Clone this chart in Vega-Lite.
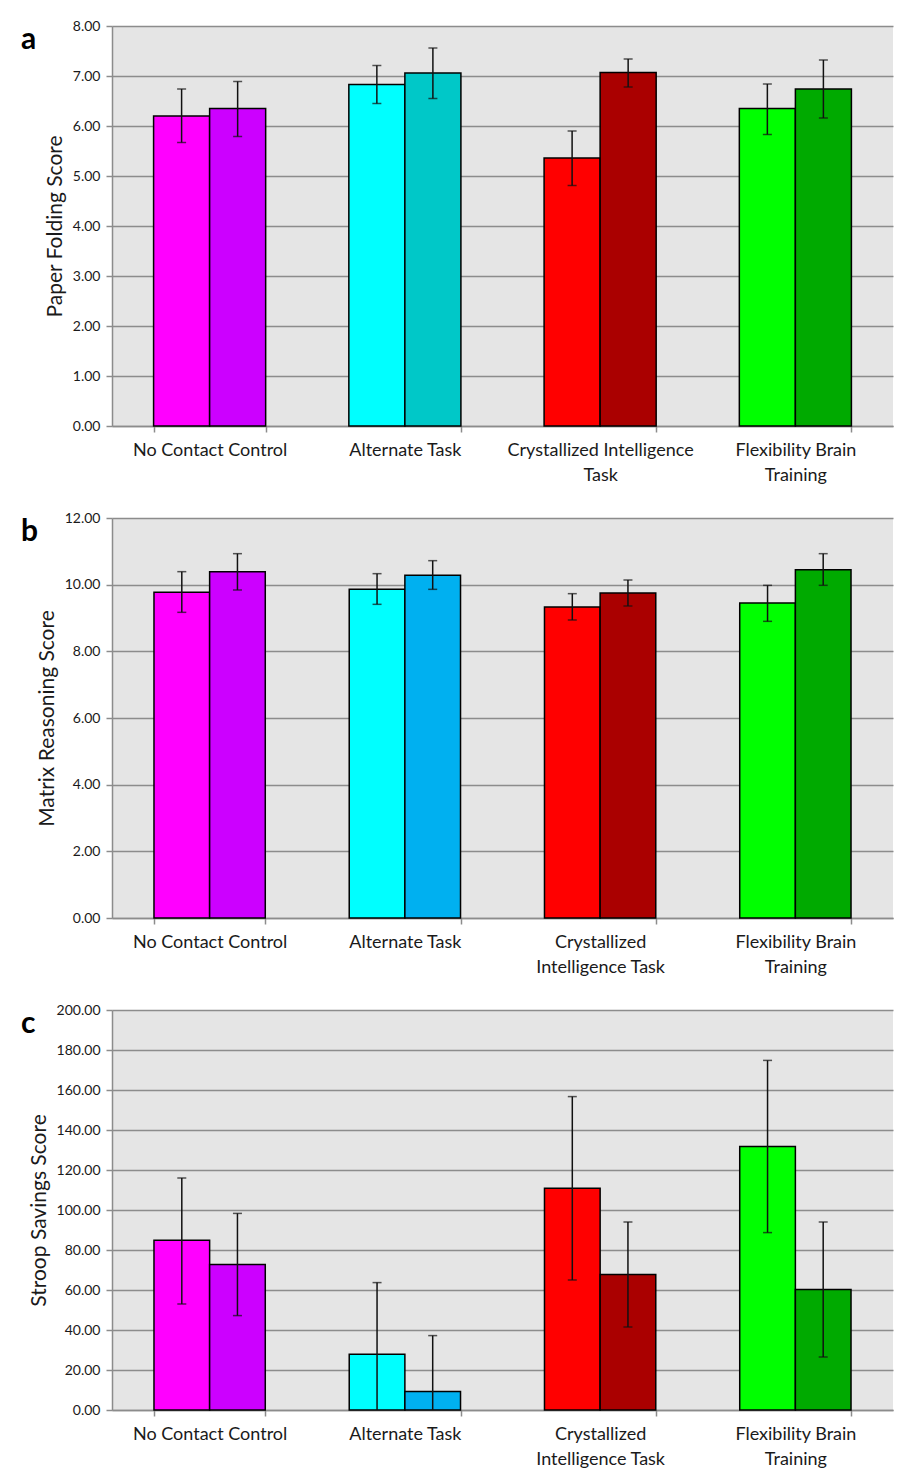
{
  "$schema": "https://vega.github.io/schema/vega-lite/v6.json",
  "background": "white",
  "padding": {"left": 21, "top": 19, "right": 9, "bottom": 0},
  "config": {
    "font": "Lato",
    "view": {"fill": "#e5e5e5", "stroke": null},
    "axis": {
      "labelFont": "Lato", "titleFont": "Lato", "labelColor": "#1a1a1a", "titleColor": "#1a1a1a",
      "domainColor": "#8c8c8c", "tickColor": "#8c8c8c", "gridColor": "#8c8c8c",
      "gridWidth": 1.5, "domainWidth": 1.5, "tickWidth": 1.5, "titleFontWeight": "normal"
    },
    "axisY": {"labelFontSize": 14, "titleFontSize": 21, "tickSize": 6, "labelPadding": 6, "titlePadding": 7, "grid": true, "format": ".2f", "labelOverlap": false},
    "axisX": {"labelFontSize": 18, "labelAngle": 0, "tickSize": 6, "labelPadding": 9, "labelLineHeight": 25, "labelLimit": 400, "grid": false, "tickBand": "extent", "title": null, "labelOverlap": false},
    "title": {"font": "Lato", "fontSize": 30, "fontWeight": "bold", "color": "black", "anchor": "start", "frame": "group", "dx": -91, "dy": 40},
    "bar": {"stroke": "black", "strokeWidth": 1.5},
    "legend": {"disable": true}
  },
  "datasets": {
    "a": [
      {"group": "No Contact Control", "time": "pre", "series": "NC pre", "mean": 6.20, "lo": 5.67, "hi": 6.74},
      {"group": "No Contact Control", "time": "post", "series": "NC post", "mean": 6.35, "lo": 5.79, "hi": 6.89},
      {"group": "Alternate Task", "time": "pre", "series": "AT pre", "mean": 6.83, "lo": 6.45, "hi": 7.21},
      {"group": "Alternate Task", "time": "post", "series": "AT post", "mean": 7.06, "lo": 6.55, "hi": 7.56},
      {"group": "Crystallized Intelligence Task", "time": "pre", "series": "CI pre", "mean": 5.36, "lo": 4.81, "hi": 5.90},
      {"group": "Crystallized Intelligence Task", "time": "post", "series": "CI post", "mean": 7.07, "lo": 6.78, "hi": 7.34},
      {"group": "Flexibility Brain Training", "time": "pre", "series": "FB pre", "mean": 6.35, "lo": 5.83, "hi": 6.84},
      {"group": "Flexibility Brain Training", "time": "post", "series": "FB post", "mean": 6.74, "lo": 6.16, "hi": 7.32}
    ],
    "b": [
      {"group": "No Contact Control", "time": "pre", "series": "NC pre", "mean": 9.77, "lo": 9.17, "hi": 10.39},
      {"group": "No Contact Control", "time": "post", "series": "NC post", "mean": 10.39, "lo": 9.84, "hi": 10.93},
      {"group": "Alternate Task", "time": "pre", "series": "AT pre", "mean": 9.86, "lo": 9.41, "hi": 10.33},
      {"group": "Alternate Task", "time": "post", "series": "AT post", "mean": 10.28, "lo": 9.86, "hi": 10.72},
      {"group": "Crystallized Intelligence Task", "time": "pre", "series": "CI pre", "mean": 9.33, "lo": 8.94, "hi": 9.73},
      {"group": "Crystallized Intelligence Task", "time": "post", "series": "CI post", "mean": 9.75, "lo": 9.36, "hi": 10.14},
      {"group": "Flexibility Brain Training", "time": "pre", "series": "FB pre", "mean": 9.45, "lo": 8.90, "hi": 9.98},
      {"group": "Flexibility Brain Training", "time": "post", "series": "FB post", "mean": 10.45, "lo": 9.98, "hi": 10.93}
    ],
    "c": [
      {"group": "No Contact Control", "time": "pre", "series": "NC pre", "mean": 84.9, "lo": 53.0, "hi": 116.0},
      {"group": "No Contact Control", "time": "post", "series": "NC post", "mean": 72.8, "lo": 47.2, "hi": 98.3},
      {"group": "Alternate Task", "time": "pre", "series": "AT pre", "mean": 27.9, "lo": -7.9, "hi": 63.7},
      {"group": "Alternate Task", "time": "post", "series": "AT post", "mean": 9.2, "lo": -18.8, "hi": 37.2},
      {"group": "Crystallized Intelligence Task", "time": "pre", "series": "CI pre", "mean": 110.9, "lo": 65.0, "hi": 156.7},
      {"group": "Crystallized Intelligence Task", "time": "post", "series": "CI post", "mean": 67.8, "lo": 41.5, "hi": 94.0},
      {"group": "Flexibility Brain Training", "time": "pre", "series": "FB pre", "mean": 131.8, "lo": 88.7, "hi": 174.8},
      {"group": "Flexibility Brain Training", "time": "post", "series": "FB post", "mean": 60.3, "lo": 26.5, "hi": 94.0}
    ]
  },
  "concat": [
    {
      "title": "a",
      "width": 781, "height": 400,
      "data": {"name": "a"},
      "encoding": {
        "x": {"field": "group", "type": "nominal", "sort": null,
              "scale": {"paddingInner": 0.426, "paddingOuter": 0.213},
              "axis": {"labelExpr": "datum.value == 'Crystallized Intelligence Task' ? ['Crystallized Intelligence', 'Task'] : datum.value == 'Flexibility Brain Training' ? ['Flexibility Brain', 'Training'] : datum.value"}},
        "xOffset": {"field": "time", "type": "nominal", "sort": ["pre", "post"], "scale": {"paddingInner": 0, "paddingOuter": 0}}
      },
      "layer": [
        {"mark": {"type": "bar"},
         "encoding": {
           "y": {"field": "mean", "type": "quantitative", "scale": {"domain": [0, 8]},
                 "axis": {"title": "Paper Folding Score", "values": [0, 1, 2, 3, 4, 5, 6, 7, 8]}},
           "color": {"field": "series", "type": "nominal",
                     "scale": {"domain": ["NC pre", "NC post", "AT pre", "AT post", "CI pre", "CI post", "FB pre", "FB post"],
                               "range": ["#ff00ff", "#cc00ff", "#00ffff", "#00c8c8", "#ff0000", "#aa0000", "#00ff00", "#00aa00"]}}
         }},
        {"mark": {"type": "rule", "color": "#111111", "strokeWidth": 1.5, "clip": true},
         "encoding": {"y": {"field": "lo", "type": "quantitative", "axis": {"title": "Paper Folding Score", "values": [0, 1, 2, 3, 4, 5, 6, 7, 8]}}, "y2": {"field": "hi"}}},
        {"mark": {"type": "tick", "color": "#111111", "thickness": 1.5, "size": 9, "clip": true},
         "encoding": {"y": {"field": "lo", "type": "quantitative", "axis": {"title": "Paper Folding Score", "values": [0, 1, 2, 3, 4, 5, 6, 7, 8]}}}},
        {"mark": {"type": "tick", "color": "#111111", "thickness": 1.5, "size": 9, "clip": true},
         "encoding": {"y": {"field": "hi", "type": "quantitative", "axis": {"title": "Paper Folding Score", "values": [0, 1, 2, 3, 4, 5, 6, 7, 8]}}}}
      ]
    },
    {
      "title": "b",
      "width": 781, "height": 400,
      "data": {"name": "b"},
      "encoding": {
        "x": {"field": "group", "type": "nominal", "sort": null,
              "scale": {"paddingInner": 0.43, "paddingOuter": 0.215},
              "axis": {"labelExpr": "datum.value == 'Crystallized Intelligence Task' ? ['Crystallized', 'Intelligence Task'] : datum.value == 'Flexibility Brain Training' ? ['Flexibility Brain', 'Training'] : datum.value"}},
        "xOffset": {"field": "time", "type": "nominal", "sort": ["pre", "post"], "scale": {"paddingInner": 0, "paddingOuter": 0}}
      },
      "layer": [
        {"mark": {"type": "bar"},
         "encoding": {
           "y": {"field": "mean", "type": "quantitative", "scale": {"domain": [0, 12]},
                 "axis": {"title": "Matrix Reasoning Score", "values": [0, 2, 4, 6, 8, 10, 12]}},
           "color": {"field": "series", "type": "nominal",
                     "scale": {"domain": ["NC pre", "NC post", "AT pre", "AT post", "CI pre", "CI post", "FB pre", "FB post"],
                               "range": ["#ff00ff", "#cc00ff", "#00ffff", "#00b0f0", "#ff0000", "#aa0000", "#00ff00", "#00aa00"]}}
         }},
        {"mark": {"type": "rule", "color": "#111111", "strokeWidth": 1.5, "clip": true},
         "encoding": {"y": {"field": "lo", "type": "quantitative", "axis": {"title": "Matrix Reasoning Score", "values": [0, 2, 4, 6, 8, 10, 12]}}, "y2": {"field": "hi"}}},
        {"mark": {"type": "tick", "color": "#111111", "thickness": 1.5, "size": 9, "clip": true},
         "encoding": {"y": {"field": "lo", "type": "quantitative", "axis": {"title": "Matrix Reasoning Score", "values": [0, 2, 4, 6, 8, 10, 12]}}}},
        {"mark": {"type": "tick", "color": "#111111", "thickness": 1.5, "size": 9, "clip": true},
         "encoding": {"y": {"field": "hi", "type": "quantitative", "axis": {"title": "Matrix Reasoning Score", "values": [0, 2, 4, 6, 8, 10, 12]}}}}
      ]
    },
    {
      "title": "c",
      "width": 781, "height": 400,
      "data": {"name": "c"},
      "encoding": {
        "x": {"field": "group", "type": "nominal", "sort": null,
              "scale": {"paddingInner": 0.43, "paddingOuter": 0.215},
              "axis": {"labelExpr": "datum.value == 'Crystallized Intelligence Task' ? ['Crystallized', 'Intelligence Task'] : datum.value == 'Flexibility Brain Training' ? ['Flexibility Brain', 'Training'] : datum.value"}},
        "xOffset": {"field": "time", "type": "nominal", "sort": ["pre", "post"], "scale": {"paddingInner": 0, "paddingOuter": 0}}
      },
      "layer": [
        {"mark": {"type": "bar"},
         "encoding": {
           "y": {"field": "mean", "type": "quantitative", "scale": {"domain": [0, 200]},
                 "axis": {"title": "Stroop Savings Score", "values": [0, 20, 40, 60, 80, 100, 120, 140, 160, 180, 200]}},
           "color": {"field": "series", "type": "nominal",
                     "scale": {"domain": ["NC pre", "NC post", "AT pre", "AT post", "CI pre", "CI post", "FB pre", "FB post"],
                               "range": ["#ff00ff", "#cc00ff", "#00ffff", "#00b0f0", "#ff0000", "#aa0000", "#00ff00", "#00aa00"]}}
         }},
        {"mark": {"type": "rule", "color": "#111111", "strokeWidth": 1.5, "clip": true},
         "encoding": {"y": {"field": "lo", "type": "quantitative", "axis": {"title": "Stroop Savings Score", "values": [0, 20, 40, 60, 80, 100, 120, 140, 160, 180, 200]}}, "y2": {"field": "hi"}}},
        {"mark": {"type": "tick", "color": "#111111", "thickness": 1.5, "size": 9, "clip": true},
         "encoding": {"y": {"field": "lo", "type": "quantitative", "axis": {"title": "Stroop Savings Score", "values": [0, 20, 40, 60, 80, 100, 120, 140, 160, 180, 200]}}}},
        {"mark": {"type": "tick", "color": "#111111", "thickness": 1.5, "size": 9, "clip": true},
         "encoding": {"y": {"field": "hi", "type": "quantitative", "axis": {"title": "Stroop Savings Score", "values": [0, 20, 40, 60, 80, 100, 120, 140, 160, 180, 200]}}}}
      ]
    }
  ],
  "columns": 1,
  "spacing": 27,
  "resolve": {"scale": {"x": "independent", "y": "independent", "color": "independent", "xOffset": "independent"}}
}
